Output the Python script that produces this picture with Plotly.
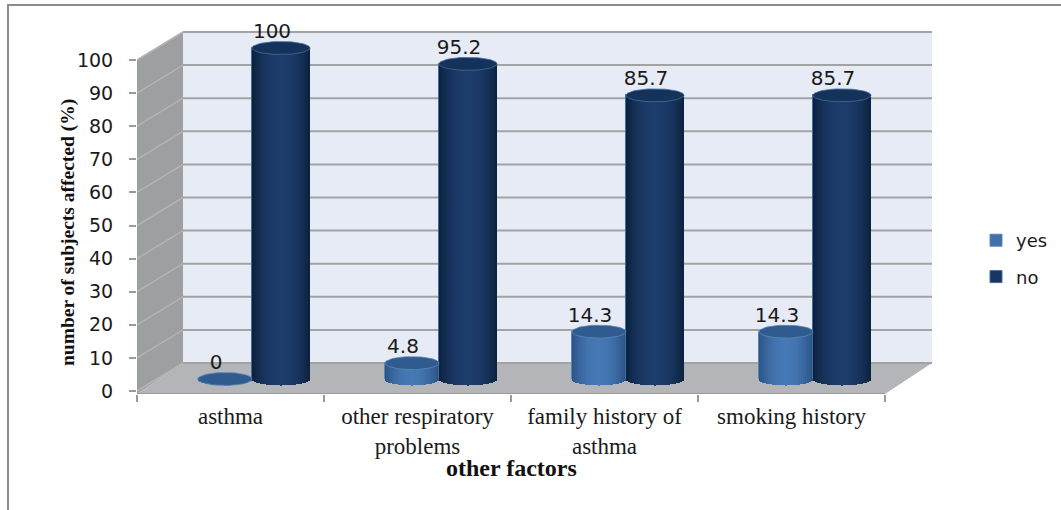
import numpy as np
import plotly.graph_objects as go

# Chart values
categories = ["asthma", "other respiratory<br>problems", "family history of<br>asthma", "smoking history"]
yes_values = [0, 4.8, 14.3, 14.3]
no_values = [100, 95.2, 85.7, 85.7]
y_ticks = list(range(0, 101, 10))

W, H = 1061, 510
# Plot-area corners in pixels; the top leaves headroom for the tallest value label
LEFT, RIGHT, TOP, BOTTOM = 137, 932, 20, 394
PX_PER_CAT = 187.0
PX_PER_UNIT = 3.31

# 3-D box depth and cylinder geometry, all in axis units
DEPTH_X = 46 / PX_PER_CAT
DEPTH_Y = 28 / PX_PER_UNIT
LIFT = 12 / PX_PER_UNIT           # cylinders stand mid-way back on the floor
SHIFT = 21.5 / PX_PER_CAT
CAP_RY = 6.5 / PX_PER_UNIT
SLICES = 29

x_min = -0.5
x_max = x_min + (RIGHT - LEFT) / PX_PER_CAT
y_min = -(BOTTOM - 391) / PX_PER_UNIT
y_max = (391 - TOP) / PX_PER_UNIT
x_front_max = 3.5


def blend(a, b, t):
    c = [round(a[i] + (b[i] - a[i]) * t) for i in range(3)]
    return f"rgb({c[0]},{c[1]},{c[2]})"


def poly(points):
    return "M" + " L".join(f"{x},{y}" for x, y in points) + " Z"


shapes = [
    # outer frame
    dict(type="path", xref="paper", yref="paper", layer="below",
         path=f"M{8/W},0 L{8/W},{1-5/H} L1,{1-5/H}",
         line=dict(color="#8c8c8c", width=2)),
    # back wall
    dict(type="path", layer="below", line=dict(width=0), fillcolor="#e6ebf5",
         path=poly([(x_min + DEPTH_X, DEPTH_Y), (x_max, DEPTH_Y), (x_max, 100 + DEPTH_Y), (x_min + DEPTH_X, 100 + DEPTH_Y)])),
    # side wall
    dict(type="path", layer="below", line=dict(width=0), fillcolor="#9d9fa1",
         path=poly([(x_min, y_min), (x_min + DEPTH_X, DEPTH_Y), (x_min + DEPTH_X, 100 + DEPTH_Y), (x_min, 100)])),
    # floor
    dict(type="path", layer="below", line=dict(width=0), fillcolor="#b3b5b8",
         path=poly([(x_min, y_min), (x_front_max, y_min), (x_max, DEPTH_Y), (x_min + DEPTH_X, DEPTH_Y)])),
    # front floor edge
    dict(type="line", layer="below", x0=x_min, x1=x_front_max, y0=y_min, y1=y_min,
         line=dict(color="#9a9a9a", width=2)),
]
for t in y_ticks:
    # each grid line runs up the side wall, then across the back wall
    shapes.append(dict(type="line", layer="below", x0=x_min, x1=x_min + DEPTH_X, y0=t, y1=t + DEPTH_Y,
                       line=dict(color="#b2b3b5", width=1.5)))
    shapes.append(dict(type="line", layer="below", x0=x_min + DEPTH_X, x1=x_max, y0=t + DEPTH_Y, y1=t + DEPTH_Y,
                       line=dict(color="#a3a3a3", width=2)))

fig = go.Figure()

# name, values, side of the group centre, body width, edge tone, mid tone, cap, rim
series = [
    ("yes", yes_values, -1, 54 / PX_PER_CAT, (0x2a, 0x50, 0x82), (0x45, 0x78, 0xb4), "#2f5b8f", "#5d86b8"),
    ("no", no_values, 1, 58 / PX_PER_CAT, (0x0c, 0x20, 0x3c), (0x1c, 0x3c, 0x6a), "#15325a", "#3f6ca3"),
]
for name, values, side, cyl_w, edge_rgb, mid_rgb, cap_color, rim in series:
    centers = [i + SHIFT + side * cyl_w / 2 for i in range(len(values))]
    # plain cylinder body carrying the value and the legend swatch
    fig.add_trace(go.Bar(
        x=centers, y=values, base=[LIFT] * len(values), width=cyl_w, name=name, legendgroup=name,
        marker=dict(color=blend(edge_rgb, mid_rgb, 0.8), line=dict(color=rim, width=1)),
    ))
    # vertical strips give the rounded shading and the curved lower rim
    xs, ys, bases, colors = [], [], [], []
    for c, v in zip(centers, values):
        for k in range(SLICES):
            u = (k + 0.5) / SLICES * 2 - 1
            sag = CAP_RY * np.sqrt(1 - u * u)
            xs.append(c + u * cyl_w / 2)
            ys.append(v + sag)
            bases.append(LIFT - sag)
            colors.append(blend(edge_rgb, mid_rgb, (1 - abs(u) ** 2.2)))
    fig.add_trace(go.Bar(
        x=xs, y=ys, base=bases, width=cyl_w / SLICES, showlegend=False, hoverinfo="skip",
        marker=dict(color=colors, line=dict(width=0)),
    ))
    # elliptical top of each cylinder
    theta = np.linspace(0, 2 * np.pi, 61)
    for c, v in zip(centers, values):
        fig.add_trace(go.Scatter(
            x=c + cyl_w / 2 * np.cos(theta), y=LIFT + v + CAP_RY * np.sin(theta),
            mode="lines", fill="toself", fillcolor=cap_color,
            line=dict(color=rim, width=0.8), showlegend=False, hoverinfo="skip",
        ))
    # value labels sit just above the cap
    fig.add_trace(go.Scatter(
        x=[c - 9 / PX_PER_CAT for c in centers], y=[LIFT + v + 15 / PX_PER_UNIT for v in values],
        mode="text", text=[str(v) for v in values], textposition="middle center", cliponaxis=False,
        textfont=dict(family="DejaVu Sans", size=20, color="#1a1a1a"),
        showlegend=False, hoverinfo="skip",
    ))

fig.update_layout(
    width=W, height=H, margin=dict(l=0, r=0, t=0, b=0),
    paper_bgcolor="white", plot_bgcolor="rgba(0,0,0,0)",
    barmode="overlay", bargap=0, shapes=shapes,
    legend=dict(x=976 / W, y=1 - 222 / H, xanchor="left", yanchor="top", tracegroupgap=10,
                bgcolor="rgba(0,0,0,0)", font=dict(family="DejaVu Sans", size=18, color="#1a1a1a")),
    xaxis=dict(domain=[LEFT / W, RIGHT / W], range=[x_min, x_max], tickmode="array", automargin=False,
               tickvals=list(range(len(categories))), ticktext=categories, ticks="", showgrid=False,
               zeroline=False, showline=False, anchor="y", ticklabelstandoff=6,
               tickfont=dict(family="Liberation Serif", size=23, color="#1a1a1a"),
               minor=dict(tickmode="array", tickvals=[i - 0.5 for i in range(len(categories) + 1)],
                          ticks="outside", ticklen=7, tickwidth=2, tickcolor="#9a9a9a", showgrid=False)),
    yaxis=dict(domain=[1 - BOTTOM / H, 1 - TOP / H], range=[y_min, y_max], tickmode="array", automargin=False,
               tickvals=y_ticks, ticks="outside", ticklen=7, tickwidth=2, tickcolor="#9a9a9a",
               showgrid=False, zeroline=False, showline=False, anchor="x", ticklabelstandoff=12,
               tickfont=dict(family="DejaVu Sans", size=19, color="#1a1a1a")),
    annotations=[
        dict(text="<b>other factors</b>", xref="paper", yref="paper", x=511 / W, y=1 - 468 / H,
             xanchor="center", yanchor="middle", showarrow=False,
             font=dict(family="Liberation Serif", size=24, color="#111111")),
        dict(text="<b>number of subjects affected (%)</b>", xref="paper", yref="paper", x=68 / W, y=1 - 233 / H,
             xanchor="center", yanchor="middle", textangle=-90, showarrow=False,
             font=dict(family="Liberation Serif", size=19.5, color="#111111")),
    ],
)

fig.write_html("out.html")
